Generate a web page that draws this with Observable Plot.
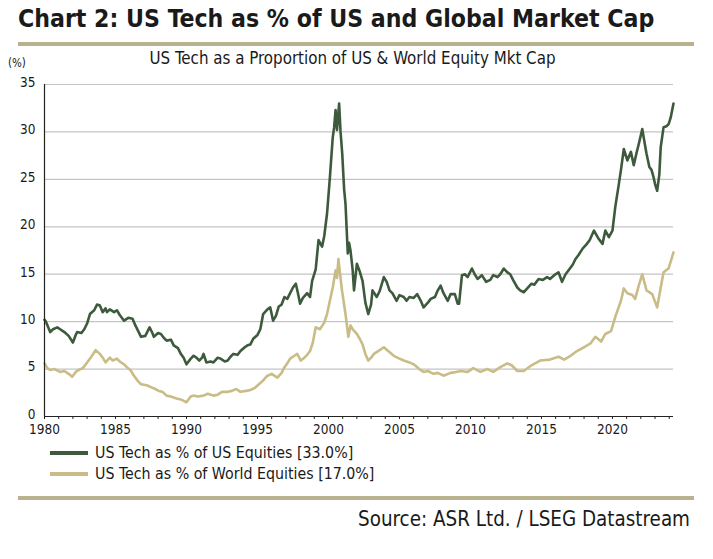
<!DOCTYPE html>
<html>
<head>
<meta charset="utf-8">
<script src="https://cdn.jsdelivr.net/npm/d3@7"></script>
<script src="https://cdn.jsdelivr.net/npm/@observablehq/plot@0.6"></script>
<style>
  body { margin: 0; background: #fff; }
  #chart { position: relative; width: 713px; height: 559px; background: #fff; overflow: hidden;
           font-family: "DejaVu Sans Condensed", "Liberation Sans Narrow", "DejaVu Sans", sans-serif; color: #1a1a1a; }
  .abs { position: absolute; white-space: nowrap; }
  #title { left: 18px; top: 4px; font-size: 24.6px; font-weight: bold; }
  .rule { position: absolute; left: 18px; width: 676px; height: 4px; background: #b8b38e; }
  #subtitle { left: 0; width: 705px; text-align: center; top: 48px; font-size: 16.8px; }
  #pct { left: 8px; top: 56px; font-size: 11.5px; }
  #plot { position: absolute; left: 0; top: 70px; }
  .leg { position: absolute; left: 50px; font-size: 15.8px; display: flex; align-items: center; }
  .sw { width: 38px; height: 4px; margin-right: 7px; }
  #source { right: 23px; top: 507px; font-size: 20.4px; }
</style>
</head>
<body>
<div id="chart">
  <div id="title" class="abs">Chart 2: US Tech as % of US and Global Market Cap</div>
  <div class="rule" style="top:42px"></div>
  <div id="subtitle" class="abs">US Tech as a Proportion of US &amp; World Equity Mkt Cap</div>
  <div id="pct" class="abs">(%)</div>
  <div id="plot"></div>
  <div class="leg" style="top:443px"><div class="sw" style="background:#3e5a3c"></div>US Tech as % of US Equities [33.0%]</div>
  <div class="leg" style="top:464px"><div class="sw" style="background:#c9bc86"></div>US Tech as % of World Equities [17.0%]</div>
  <div class="rule" style="top:496px"></div>
  <div id="source" class="abs">Source: ASR Ltd. / LSEG Datastream</div>
</div>
<script>
const usYears = [1980.0,1980.1,1980.4,1980.6,1980.9,1981.1,1981.4,1981.7,1982.0,1982.2,1982.3,1982.6,1982.8,1983.0,1983.2,1983.5,1983.7,1983.9,1984.1,1984.3,1984.4,1984.6,1984.9,1985.1,1985.3,1985.6,1985.9,1986.2,1986.4,1986.6,1986.8,1987.1,1987.4,1987.6,1987.7,1988.0,1988.2,1988.4,1988.6,1988.9,1989.1,1989.4,1989.6,1989.8,1990.0,1990.3,1990.5,1990.7,1990.9,1991.1,1991.2,1991.4,1991.7,1991.9,1992.2,1992.4,1992.7,1992.9,1993.1,1993.3,1993.6,1993.8,1994.1,1994.3,1994.5,1994.7,1995.0,1995.2,1995.4,1995.7,1995.9,1996.1,1996.3,1996.5,1996.7,1996.9,1997.1,1997.3,1997.5,1997.7,1997.85,1998.0,1998.2,1998.5,1998.7,1998.85,1999.1,1999.3,1999.55,1999.7,1999.9,2000.1,2000.3,2000.4,2000.5,2000.6,2000.75,2000.85,2000.97,2001.1,2001.2,2001.36,2001.45,2001.55,2001.7,2001.8,2002.0,2002.2,2002.4,2002.6,2002.8,2003.0,2003.1,2003.4,2003.6,2003.9,2004.1,2004.3,2004.5,2004.8,2005.0,2005.3,2005.5,2005.7,2006.0,2006.25,2006.5,2006.7,2007.0,2007.2,2007.5,2007.7,2007.9,2008.1,2008.4,2008.6,2008.9,2009.1,2009.2,2009.4,2009.6,2009.8,2010.1,2010.3,2010.5,2010.8,2011.1,2011.4,2011.6,2011.9,2012.1,2012.35,2012.6,2012.8,2013.0,2013.3,2013.5,2013.75,2014.0,2014.3,2014.5,2014.8,2015.1,2015.4,2015.6,2015.9,2016.2,2016.45,2016.7,2016.9,2017.2,2017.4,2017.6,2017.9,2018.2,2018.4,2018.7,2019.0,2019.3,2019.5,2019.75,2020.0,2020.2,2020.45,2020.6,2020.8,2021.05,2021.3,2021.5,2021.7,2021.85,2022.1,2022.25,2022.4,2022.6,2022.75,2022.9,2023.0,2023.15,2023.3,2023.4,2023.6,2023.8,2023.95,2024.1,2024.3];
const usValues = [10.2,10.0,8.9,9.2,9.4,9.2,8.9,8.5,7.8,8.6,8.9,8.8,9.2,9.8,10.8,11.2,11.8,11.7,11.0,11.4,11.0,11.3,11.0,11.2,10.7,10.1,10.4,10.3,9.6,9.0,8.4,8.5,9.4,8.8,8.4,8.8,8.7,8.3,8.0,8.1,7.5,7.2,6.6,6.2,5.5,6.1,6.4,6.2,5.9,6.2,6.6,5.7,5.8,5.7,6.2,6.1,5.8,5.9,6.3,6.6,6.5,6.9,7.3,7.5,7.6,8.2,8.6,9.2,10.8,11.3,11.5,10.1,10.6,11.6,11.8,12.6,12.4,13.0,13.6,14.0,13.0,11.9,12.5,13.0,12.6,14.3,15.5,18.6,17.9,19.0,21.4,25.2,29.4,30.5,32.3,30.2,33.0,30.0,27.7,24.0,22.4,17.2,18.3,17.5,15.5,13.3,16.1,15.3,14.3,12.0,10.8,11.8,13.3,12.6,13.2,14.7,14.2,13.3,13.0,12.2,12.8,12.6,12.2,12.6,12.5,12.9,12.2,11.5,12.0,12.4,12.6,13.3,13.8,13.0,12.2,12.9,12.9,11.9,11.9,14.9,15.0,14.7,15.6,15.0,14.5,14.9,14.2,14.4,14.9,14.7,15.0,15.6,15.2,15.0,14.4,13.6,13.3,13.1,13.5,14.0,13.9,14.5,14.4,14.7,14.5,14.9,15.2,14.2,15.0,15.4,16.0,16.6,17.0,17.7,18.2,18.6,19.6,18.8,18.2,19.6,18.9,19.6,22.1,24.5,26.0,28.2,27.0,27.9,26.5,27.8,28.7,30.3,29.0,27.7,26.3,26.0,25.2,24.5,23.8,25.5,28.4,30.5,30.6,30.8,31.5,33.0];

const worldYears = [1980.0,1980.2,1980.4,1980.7,1981.1,1981.4,1981.7,1981.95,1982.2,1982.4,1982.7,1983.0,1983.3,1983.6,1983.9,1984.1,1984.3,1984.6,1984.8,1985.1,1985.3,1985.6,1985.8,1986.05,1986.3,1986.6,1986.8,1987.2,1987.5,1987.8,1988.05,1988.3,1988.6,1988.9,1989.3,1989.6,1990.0,1990.3,1990.5,1990.8,1991.2,1991.5,1991.9,1992.2,1992.5,1992.9,1993.2,1993.5,1993.8,1994.2,1994.5,1994.8,1995.1,1995.4,1995.7,1996.0,1996.4,1996.7,1996.9,1997.1,1997.3,1997.6,1997.8,1998.05,1998.3,1998.5,1998.7,1998.9,1999.1,1999.4,1999.7,1999.9,2000.1,2000.3,2000.5,2000.6,2000.7,2000.95,2001.2,2001.4,2001.55,2001.7,2002.0,2002.2,2002.4,2002.6,2002.8,2003.0,2003.2,2003.5,2003.9,2004.2,2004.6,2005.0,2005.3,2005.7,2006.0,2006.4,2006.7,2007.0,2007.4,2007.7,2008.1,2008.6,2009.0,2009.3,2009.8,2010.2,2010.7,2011.2,2011.6,2012.1,2012.6,2012.9,2013.3,2013.75,2014.3,2014.9,2015.6,2016.2,2016.6,2017.05,2017.5,2018.0,2018.45,2018.8,2019.2,2019.5,2019.9,2020.2,2020.6,2020.8,2021.05,2021.4,2021.6,2021.85,2022.1,2022.4,2022.8,2023.15,2023.4,2023.6,2023.95,2024.3];
const worldValues = [5.6,5.1,4.9,5.0,4.7,4.8,4.5,4.2,4.7,4.9,5.1,5.7,6.3,7.0,6.6,6.2,5.7,6.2,5.9,6.1,5.8,5.5,5.2,4.9,4.3,3.7,3.4,3.3,3.1,2.9,2.7,2.6,2.2,2.1,1.9,1.8,1.5,2.1,2.2,2.1,2.2,2.4,2.2,2.3,2.6,2.6,2.7,2.9,2.6,2.7,2.8,3.0,3.4,3.8,4.3,4.5,4.1,4.6,5.2,5.6,6.1,6.4,6.6,5.9,6.2,6.5,6.9,7.8,9.4,9.2,9.9,10.8,12.2,13.6,15.4,14.6,16.6,13.3,10.8,8.4,9.6,9.2,8.7,8.2,7.6,6.6,5.9,6.2,6.6,6.9,7.3,6.9,6.4,6.1,5.9,5.7,5.5,5.0,4.7,4.8,4.5,4.6,4.3,4.6,4.7,4.8,4.7,5.1,4.7,5.0,4.7,5.2,5.6,5.4,4.8,4.8,5.4,5.9,6.0,6.3,6.0,6.4,6.9,7.3,7.7,8.4,7.9,8.7,9.0,10.5,12.2,13.5,13.0,12.8,12.4,13.8,15.0,13.3,12.9,11.5,13.6,15.2,15.6,17.3];

const yTicks = [0, 5, 10, 15, 20, 25, 30, 35];
const xTicks = [1980, 1985, 1990, 1995, 2000, 2005, 2010, 2015, 2020];
const xMinorTicks = d3.range(1980, 2025);

const usData = usYears.map((year, i) => ({year, value: usValues[i]}));
const worldData = worldYears.map((year, i) => ({year, value: worldValues[i]}));

const chart = Plot.plot({
  width: 713,
  height: 372,
  marginLeft: 44,
  marginRight: 40,
  marginTop: 14,
  marginBottom: 26,
  style: {fontSize: "13.5px", fontFamily: '"DejaVu Sans Condensed", "Liberation Sans Narrow", "DejaVu Sans", sans-serif', color: "#1a1a1a", background: "transparent"},
  x: {domain: [1980, 2024.3]},
  y: {domain: [0, 35]},
  marks: [
    Plot.gridY(yTicks.filter(d => d > 0), {stroke: "#c4c4c4", strokeOpacity: 1, strokeWidth: 1.2}),
    Plot.axisY({ticks: yTicks, tickSize: 0, tickPadding: 9, label: null, dy: -2}),
    Plot.axisX({ticks: xMinorTicks, tickSize: 3, text: null, label: null, stroke: "#222"}),
    Plot.axisX({ticks: xTicks, tickSize: 0, tickPadding: 8, tickFormat: d => String(d), label: null}),
    Plot.lineY(worldData, {x: "year", y: "value", stroke: "#c9bc86", strokeWidth: 2.6}),
    Plot.lineY(usData, {x: "year", y: "value", stroke: "#3e5a3c", strokeWidth: 2.6}),
    Plot.ruleY([0], {stroke: "#222", strokeWidth: 1.2}),
    Plot.ruleX([1980], {y1: 0, y2: 35, stroke: "#222", strokeWidth: 1.2})
  ]
});
document.getElementById("plot").appendChild(chart);
</script>
</body>
</html>
